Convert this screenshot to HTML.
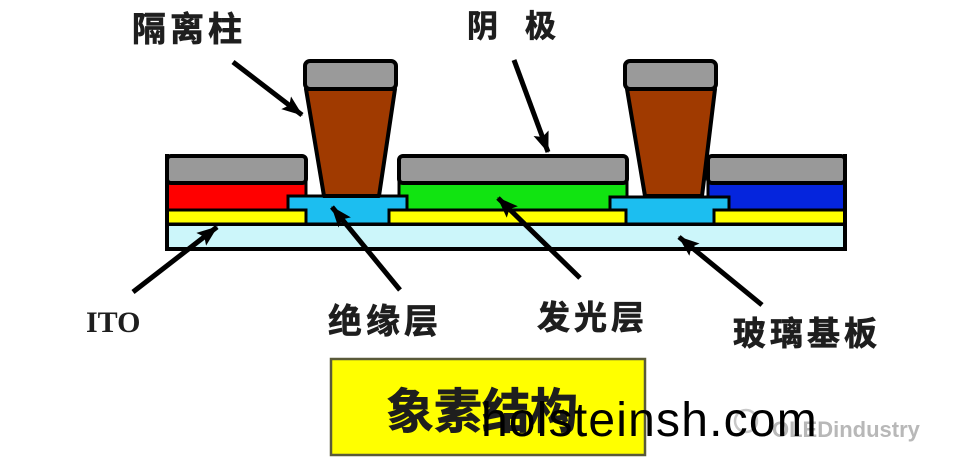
<!DOCTYPE html>
<html>
<head>
<meta charset="utf-8">
<style>
html,body{margin:0;padding:0;background:#fff;}
body{width:956px;height:464px;overflow:hidden;}
svg{display:block;}
.cn{font-family:"Liberation Sans","Noto Sans CJK SC","WenQuanYi Zen Hei",sans-serif;font-weight:bold;fill:#1e1e1e;stroke:#1e1e1e;stroke-width:0.7;}
</style>
</head>
<body>
<svg width="956" height="464" viewBox="0 0 956 464" xmlns="http://www.w3.org/2000/svg">
<defs>
<marker id="ah" markerUnits="userSpaceOnUse" markerWidth="22" markerHeight="18" refX="20" refY="8" orient="auto">
<path d="M0,0 L21,8 L0,16 L4,8 z" fill="#000"/>
</marker>
</defs>
<rect width="956" height="464" fill="#fff"/>

<!-- substrate -->
<rect x="167" y="224" width="678" height="25" fill="#CCF6FA" stroke="#000" stroke-width="4"/>
<!-- ITO yellow -->
<rect x="167" y="210" width="139" height="14" fill="#FFFF00" stroke="#000" stroke-width="3"/>
<rect x="389" y="210" width="237" height="14" fill="#FFFF00" stroke="#000" stroke-width="3"/>
<rect x="714" y="210" width="131" height="14" fill="#FFFF00" stroke="#000" stroke-width="3"/>
<!-- emitters -->
<rect x="167" y="183" width="139" height="27" fill="#FF0000" stroke="#000" stroke-width="3"/>
<rect x="399" y="183" width="228" height="27" fill="#11E411" stroke="#000" stroke-width="3"/>
<rect x="708" y="183" width="137" height="27" fill="#0525DD" stroke="#000" stroke-width="3"/>
<!-- insulator T shapes -->
<polygon points="288,196 407,196 407,210 389,210 389,224 306,224 306,210 288,210" fill="#1CBEF0" stroke="#000" stroke-width="3"/>
<polygon points="610,197 729,197 729,210 714,210 714,224 626,224 626,210 610,210" fill="#1CBEF0" stroke="#000" stroke-width="3"/>
<!-- cathode gray -->
<rect x="167" y="156" width="139" height="27" rx="4" fill="#999999" stroke="#000" stroke-width="4"/>
<rect x="399" y="156" width="228" height="27" rx="4" fill="#999999" stroke="#000" stroke-width="4"/>
<rect x="708" y="156" width="137" height="27" rx="4" fill="#999999" stroke="#000" stroke-width="4"/>
<line x1="167" y1="154" x2="167" y2="251" stroke="#000" stroke-width="4"/>
<line x1="845" y1="154" x2="845" y2="251" stroke="#000" stroke-width="4"/>

<!-- pillars -->
<polygon points="306,89 395,89 379,196 324,196" fill="#A03A00" stroke="#000" stroke-width="4" stroke-linejoin="round"/>
<rect x="305" y="61" width="91" height="28" rx="5" fill="#9A9A9A" stroke="#000" stroke-width="4"/>
<polygon points="627,89 715,89 702,196 645,196" fill="#A03A00" stroke="#000" stroke-width="4" stroke-linejoin="round"/>
<rect x="625" y="61" width="91" height="28" rx="5" fill="#9A9A9A" stroke="#000" stroke-width="4"/>

<!-- arrows -->
<g stroke="#000" stroke-width="5" marker-end="url(#ah)">
<line x1="233" y1="62" x2="302" y2="115"/>
<line x1="514" y1="60" x2="548" y2="152"/>
<line x1="133" y1="292" x2="217" y2="227"/>
<line x1="400" y1="290" x2="332" y2="207"/>
<line x1="580" y1="278" x2="498" y2="198"/>
<line x1="762" y1="305" x2="679" y2="237"/>
</g>

<!-- labels -->
<text class="cn" x="132" y="41" font-size="34" letter-spacing="4">隔离柱</text>
<text class="cn" x="467" y="37" font-size="31">阴</text>
<text class="cn" x="525" y="37" font-size="31">极</text>
<text x="86" y="332" font-family="'Liberation Serif',serif" font-weight="bold" font-size="30" fill="#1e1e1e">ITO</text>
<text class="cn" x="328" y="333" font-size="34" letter-spacing="4">绝缘层</text>
<text class="cn" x="537" y="329" font-size="33" letter-spacing="4">发光层</text>
<text class="cn" x="733" y="345" font-size="33" letter-spacing="4">玻璃基板</text>

<!-- box -->
<rect x="331" y="359" width="314" height="96" fill="#FFFF00" stroke="#5a5a3a" stroke-width="2.5"/>
<text class="cn" x="386" y="428" font-size="48" fill="#222">象素结构</text>

<!-- faint watermark -->
<circle cx="746" cy="421" r="11" fill="none" stroke="#c8c8c8" stroke-width="2.5"/>
<text x="772" y="437" font-family="'Liberation Sans',sans-serif" font-weight="bold" font-size="22" fill="#b8b8b8">OLEDindustry</text>

<!-- main watermark -->
<text x="481" y="436" font-family="'Liberation Sans',sans-serif" font-size="48" letter-spacing="1.2" fill="#000">holsteinsh.com</text>
</svg>
</body>
</html>
